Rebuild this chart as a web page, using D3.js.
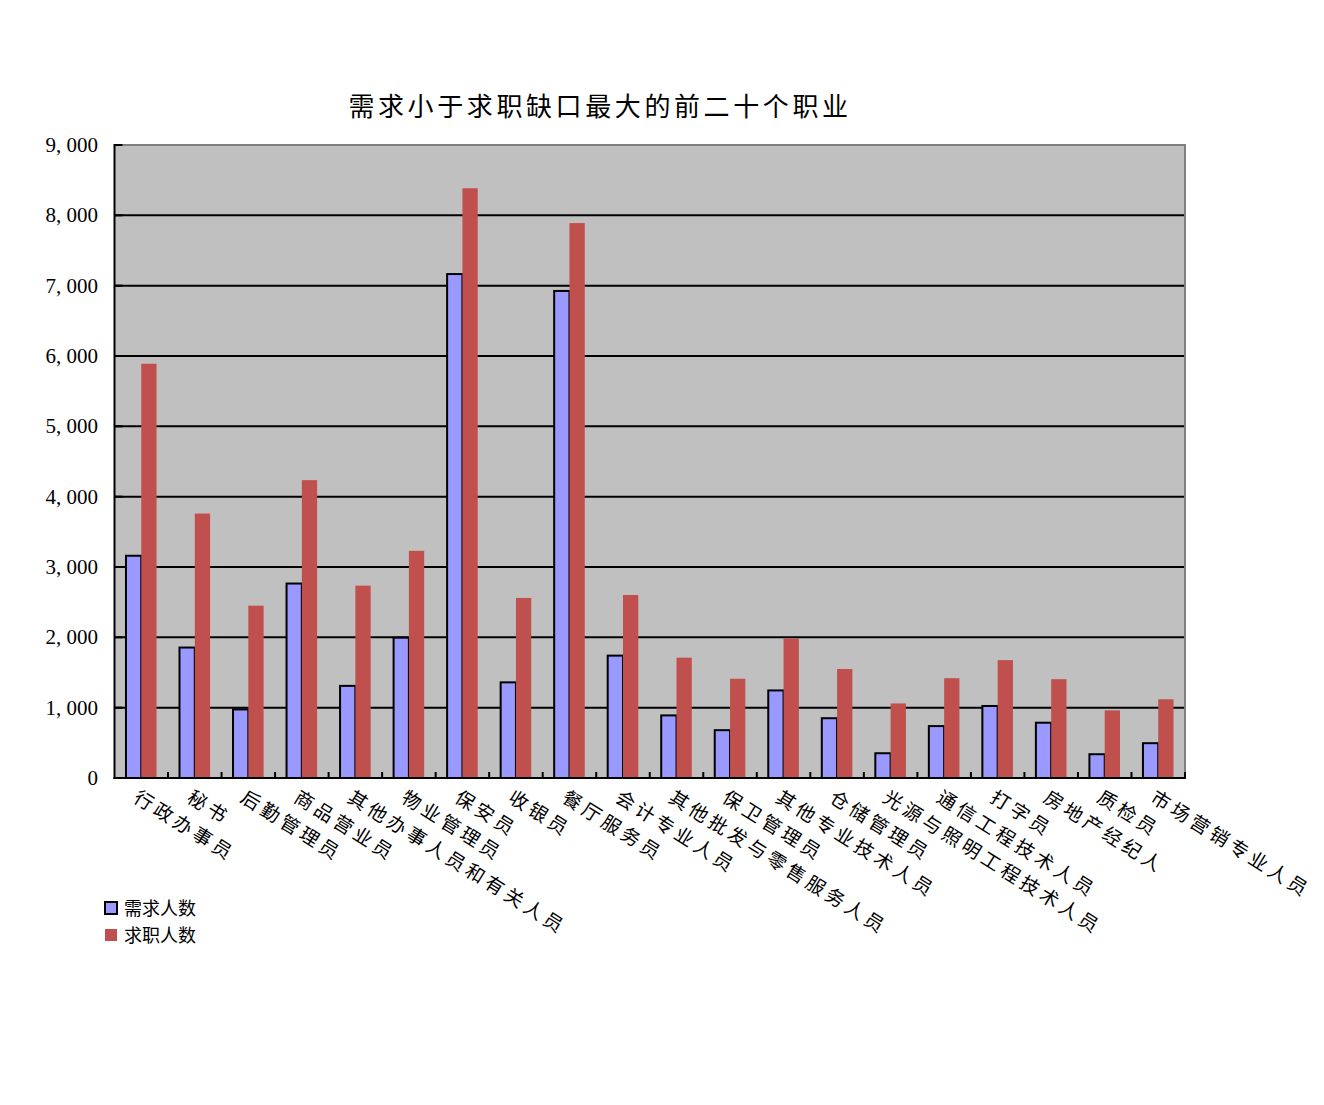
<!DOCTYPE html>
<html><head><meta charset="utf-8">
<script src="https://cdn.jsdelivr.net/npm/d3@7"></script>
<style>body{margin:0;background:#fff}svg{display:block}</style>
</head><body>
<script>
const categories = ["行政办事员","秘书","后勤管理员","商品营业员","其他办事人员和有关人员","物业管理员","保安员","收银员","餐厅服务员","会计专业人员","其他批发与零售服务人员","保卫管理员","其他专业技术人员","仓储管理员","光源与照明工程技术人员","通信工程技术人员","打字员","房地产经纪人","质检员","市场营销专业人员"];
const demand = [3160,1855,975,2765,1310,1995,7165,1360,6925,1740,890,680,1245,850,352,738,1024,786,338,495];
const seekers = [5890,3760,2450,4235,2735,3230,8385,2560,7890,2602,1711,1411,1985,1550,1060,1419,1676,1405,962,1119];
const seriesNames = ["需求人数","求职人数"];
const yTicks = [0,1000,2000,3000,4000,5000,6000,7000,8000,9000];
const yTickLabels = ["0","1,000","2,000","3,000","4,000","5,000","6,000","7,000","8,000","9,000"];
const title = "需求小于求职缺口最大的前二十个职业";

const W = 1324, H = 1105;
const svg = d3.select("body").append("svg").attr("width", W).attr("height", H);
const L = 114.5, R = 1185, T = 145, B = 778;
const x = d3.scaleBand().domain(categories).range([L, R]).paddingInner(0).paddingOuter(0);
const y = d3.scaleLinear().domain([0, 9000]).range([B, T]);
const gap = 1.5;
const bw = x.bandwidth() / (2 + gap);
const colors = ["#9999FF", "#C0504D"];

// plot area
svg.append("rect").attr("x", L).attr("y", T).attr("width", R - L).attr("height", B - T).attr("fill", "#C0C0C0");
// gridlines
svg.append("g").selectAll("line").data(yTicks.filter(d => d > 0 && d < 9000)).join("line")
  .attr("x1", L).attr("x2", R).attr("y1", d => y(d)).attr("y2", d => y(d))
  .attr("stroke", "#000").attr("stroke-width", 2);
// frame top & right
svg.append("line").attr("x1", L).attr("x2", R + 1).attr("y1", T).attr("y2", T).attr("stroke", "#808080").attr("stroke-width", 2);
svg.append("line").attr("x1", R).attr("x2", R).attr("y1", T).attr("y2", B).attr("stroke", "#808080").attr("stroke-width", 2);

// bars
const gBars = svg.append("g");
categories.forEach((c, i) => {
  const x0 = x(c) + bw * gap / 2;
  gBars.append("rect").attr("x", x0).attr("y", y(demand[i])).attr("width", bw).attr("height", y(0) - y(demand[i]))
    .attr("fill", colors[0]).attr("stroke", "#000").attr("stroke-width", 2);
  gBars.append("rect").attr("x", x0 + bw).attr("y", y(seekers[i])).attr("width", bw).attr("height", y(0) - y(seekers[i]))
    .attr("fill", colors[1]);
});

// y axis
svg.append("line").attr("x1", L).attr("x2", L).attr("y1", T - 1).attr("y2", B + 1).attr("stroke", "#000").attr("stroke-width", 2);
svg.append("g").selectAll("line").data(yTicks).join("line")
  .attr("x1", L).attr("x2", L + 8).attr("y1", d => y(d)).attr("y2", d => y(d)).attr("stroke", "#000").attr("stroke-width", 2);
svg.append("g").selectAll("text").data(yTicks).join("text")
  .attr("x", 98).attr("y", d => y(d) + 7).attr("text-anchor", "end")
  .attr("font-family", "'Liberation Serif', serif").attr("font-size", 21).attr("fill", "#000")
  .text((d, i) => yTickLabels[i].replace(",", ", "));

// x axis
svg.append("line").attr("x1", L - 1).attr("x2", R + 1).attr("y1", B).attr("y2", B).attr("stroke", "#000").attr("stroke-width", 2);
svg.append("g").selectAll("line").data(categories).join("line")
  .attr("x1", d => x(d) + x.bandwidth()).attr("x2", d => x(d) + x.bandwidth())
  .attr("y1", B).attr("y2", B - 6).attr("stroke", "#000").attr("stroke-width", 2);
const ang = 32;
svg.append("g").selectAll("text").data(categories).join("text")
  .attr("transform", d => `translate(${x(d) + x.bandwidth() / 2 - 9},${B + 23}) rotate(${ang})`)
  .attr("text-anchor", "start")
  .attr("font-family", "'Noto Sans CJK SC', sans-serif").attr("font-size", 19).attr("letter-spacing", 4).attr("fill", "#000")
  .text(d => d);

// title
svg.append("text").attr("x", 600).attr("y", 116).attr("text-anchor", "middle")
  .attr("font-family", "'Noto Sans CJK SC', sans-serif").attr("font-size", 26).attr("letter-spacing", 3.6).attr("fill", "#000")
  .text(title);

// legend
const lg = svg.append("g");
seriesNames.forEach((n, i) => {
  const yy = 902 + i * 27;
  lg.append("rect").attr("x", 105).attr("y", yy).attr("width", 12).attr("height", 12)
    .attr("fill", colors[i]).attr("stroke", i === 0 ? "#000" : "none").attr("stroke-width", 2);
  lg.append("text").attr("x", 124).attr("y", yy + 13).attr("font-family", "'Noto Sans CJK SC', sans-serif")
    .attr("font-size", 18).attr("fill", "#000").text(n);
});
</script>
</body></html>
